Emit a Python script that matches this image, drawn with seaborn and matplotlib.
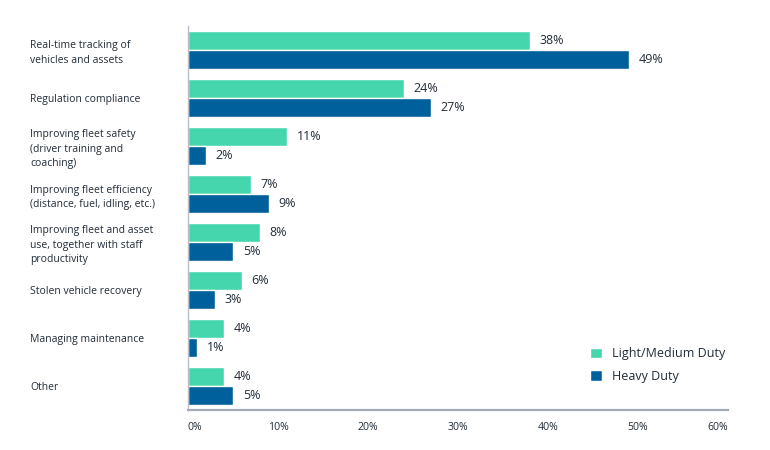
import pandas as pd
import matplotlib.pyplot as plt
import seaborn as sns

# Datos
categorias = [
    'Real-time tracking of\nvehicles and assets',
    'Regulation compliance',
    'Improving fleet safety\n(driver training and\ncoaching)',
    'Improving fleet efficiency\n(distance, fuel, idling, etc.)',
    'Improving fleet and asset\nuse, together with staff\nproductivity',
    'Stolen vehicle recovery',
    'Managing maintenance',
    'Other',
]
series = ['Light/Medium Duty', 'Heavy Duty']
light_medium = [38, 24, 11, 7, 8, 6, 4, 4]
heavy = [49, 27, 2, 9, 5, 3, 1, 5]
ticks = [0, 10, 20, 30, 40, 50, 60]
tick_labels = ['0%', '10%', '20%', '30%', '40%', '50%', '60%']

colores = ['#46D6AE', '#00609C']
texto = '#222C37'


def main():
    sns.set_style('white')
    plt.rcParams['font.family'] = ['Open Sans', 'DejaVu Sans']

    df = pd.DataFrame({
        'categoria': categorias * 2,
        'serie': [series[0]] * len(categorias) + [series[1]] * len(categorias),
        'valor': light_medium + heavy,
    })

    fig = plt.figure(figsize=(7.7, 4.5), dpi=100)
    ax = fig.add_axes([188 / 770, 1 - 410 / 450, 540 / 770, 384 / 450])

    sns.barplot(data=df, y='categoria', x='valor', hue='serie', orient='h',
                palette=colores, width=0.8, saturation=1, ax=ax)

    for cont in ax.containers:
        ax.bar_label(cont, fmt='%d%%', padding=7, fontsize=9, color=texto)

    ax.set_xlim(0, 60)
    ax.set_ylim(7.5, -0.5)
    ax.set_xticks(ticks)
    ax.set_xticklabels(tick_labels, fontsize=7.6, color=texto)
    ax.set_xlabel('')
    ax.set_ylabel('')
    xlabs = ax.get_xticklabels()
    xlabs[0].set_horizontalalignment('left')
    xlabs[-1].set_horizontalalignment('right')

    ax.tick_params(axis='y', length=0, pad=113.5, labelsize=7.5, labelcolor=texto)
    ax.tick_params(axis='x', length=0, pad=9)
    for lab in ax.get_yticklabels():
        lab.set_horizontalalignment('left')
        lab.set_linespacing(1.45)

    for s in ['top', 'right']:
        ax.spines[s].set_visible(False)
    ax.spines['bottom'].set_color('#A3ABB4')
    ax.spines['bottom'].set_linewidth(1.6)
    ax.spines['left'].set_color('#B8BFC6')
    ax.spines['left'].set_linewidth(1.0)

    ax.legend(loc='upper left', bbox_to_anchor=(579 / 770, 1 - 336 / 450),
              bbox_transform=fig.transFigure, frameon=False, fontsize=9,
              handlelength=0.9, handleheight=0.9, handletextpad=0.8,
              labelspacing=0.75, labelcolor=texto)

    fig.savefig('out.png', dpi=100)
    plt.close(fig)


if __name__ == '__main__':
    main()
